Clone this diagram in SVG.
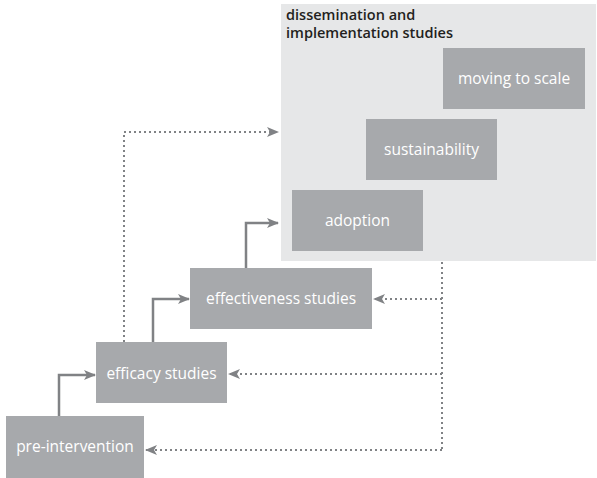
<svg xmlns="http://www.w3.org/2000/svg" width="597" height="478" viewBox="0 0 597 478">
  <style>
    .panel { fill: #e6e7e8; }
    .box { fill: #a7a9ac; }
    .lbl { font-family: "Open Sans", "Liberation Sans", sans-serif; font-size: 15.5px; fill: #ffffff; text-anchor: middle; }
    .title { font-family: "Open Sans", "Liberation Sans", sans-serif; font-size: 14.5px; font-weight: 600; fill: #231f20; }
    .solid { fill: none; stroke: #808285; stroke-width: 2.5; }
    .dot { fill: none; stroke: #808285; stroke-width: 2; stroke-dasharray: 2 3; }
  </style>
  <defs>
    <marker id="arrow" viewBox="0 0 12 10" refX="11" refY="5" markerWidth="12" markerHeight="10" markerUnits="userSpaceOnUse" orient="auto">
      <path d="M0,0 L12,5 L0,10 L3,5 z" fill="#808285"/>
    </marker>
  </defs>

  <g id="dissemination-panel">
    <rect class="panel" x="281" y="4" width="315" height="257"/>
    <text class="title" x="286" y="20">dissemination and</text>
    <text class="title" x="286" y="37.5">implementation studies</text>
  </g>

  <g id="moving-to-scale">
    <rect class="box" x="443" y="48" width="142" height="61"/>
    <text class="lbl" x="514" y="84">moving to scale</text>
  </g>
  <g id="sustainability">
    <rect class="box" x="366" y="119" width="131" height="61"/>
    <text class="lbl" x="431.5" y="155">sustainability</text>
  </g>
  <g id="adoption">
    <rect class="box" x="292" y="190" width="131" height="61"/>
    <text class="lbl" x="357.5" y="226">adoption</text>
  </g>
  <g id="effectiveness-studies">
    <rect class="box" x="190" y="268" width="182" height="61"/>
    <text class="lbl" x="281" y="304">effectiveness studies</text>
  </g>
  <g id="efficacy-studies">
    <rect class="box" x="96" y="342" width="131" height="61"/>
    <text class="lbl" x="161.5" y="379">efficacy studies</text>
  </g>
  <g id="pre-intervention">
    <rect class="box" x="6" y="416" width="138" height="62"/>
    <text class="lbl" x="75" y="452">pre-intervention</text>
  </g>

  <g id="connectors">
    <!-- forward progression -->
    <path class="solid" d="M59,416 V375 H95" marker-end="url(#arrow)"/>
    <path class="solid" d="M153,342 V299 H189" marker-end="url(#arrow)"/>
    <path class="solid" d="M246,268 V223 H278" marker-end="url(#arrow)"/>
    <!-- efficacy straight to dissemination -->
    <path class="dot" d="M124,342 V132 H278" marker-end="url(#arrow)"/>
    <!-- feedback from dissemination -->
    <path class="dot" d="M442,262 V450"/>
    <path class="dot" d="M442,299 H374" marker-end="url(#arrow)"/>
    <path class="dot" d="M442,374 H229" marker-end="url(#arrow)"/>
    <path class="dot" d="M442,450 H146" marker-end="url(#arrow)"/>
  </g>
</svg>
